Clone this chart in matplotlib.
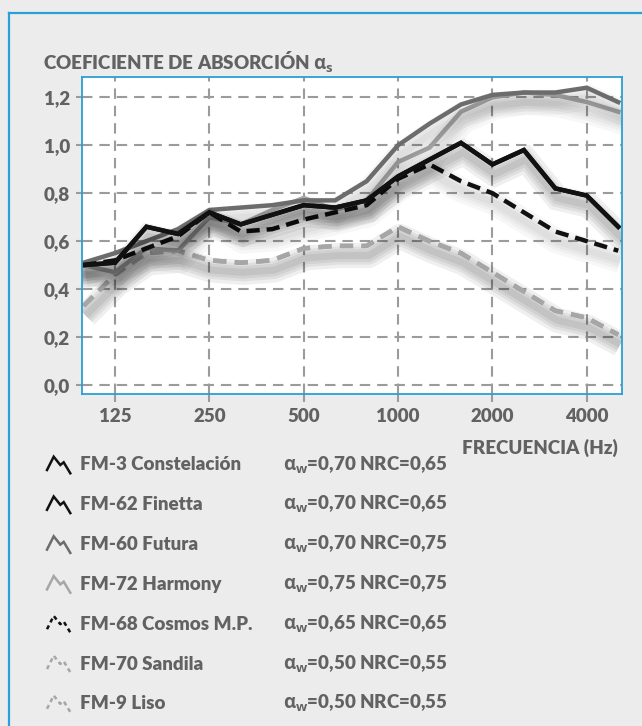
import matplotlib
matplotlib.use("Agg")
import matplotlib.pyplot as plt
import matplotlib.patheffects as pe
import numpy as np

plt.rcParams.update({
    "font.family": ["Lato", "DejaVu Sans"],
    "font.weight": "heavy",
    "mathtext.fontset": "custom",
    "mathtext.rm": "Open Sans:bold",
    "mathtext.it": "Open Sans:bold",
    "mathtext.bf": "Open Sans:bold",
    "lines.scale_dashes": False,
})

# bandas de tercio de octava
freqs = [100, 125, 160, 200, 250, 315, 400, 500, 630, 800, 1000, 1250,
         1600, 2000, 2500, 3150, 4000, 5000]
tick_freqs = [125, 250, 500, 1000, 2000, 4000]

names = ["FM-3 Constelación", "FM-62 Finetta", "FM-60 Futura",
         "FM-72 Harmony", "FM-68 Cosmos M.P.", "FM-70 Sandila", "FM-9 Liso"]
alpha_w = ["0,70", "0,70", "0,70", "0,75", "0,65", "0,50", "0,50"]
nrc = ["0,65", "0,65", "0,75", "0,75", "0,65", "0,55", "0,55"]

fm3 = [0.50, 0.51, 0.66, 0.63, 0.72, 0.67, 0.71, 0.75, 0.74, 0.77, 0.87,
       0.94, 1.01, 0.92, 0.98, 0.82, 0.79, 0.66]
fm62 = [0.50, 0.51, 0.66, 0.63, 0.72, 0.67, 0.71, 0.75, 0.74, 0.77, 0.87,
        0.94, 1.01, 0.92, 0.98, 0.82, 0.79, 0.66]
fm60 = [0.51, 0.55, 0.60, 0.65, 0.73, 0.74, 0.75, 0.77, 0.77, 0.85, 1.00,
        1.09, 1.17, 1.21, 1.22, 1.22, 1.24, 1.18]
fm72 = [0.50, 0.47, 0.57, 0.56, 0.70, 0.67, 0.73, 0.78, 0.73, 0.77, 0.93,
        0.99, 1.14, 1.20, 1.22, 1.21, 1.18, 1.14]
fm68 = [0.50, 0.52, 0.57, 0.62, 0.72, 0.64, 0.65, 0.69, 0.72, 0.75, 0.86,
        0.92, 0.85, 0.80, 0.72, 0.64, 0.60, 0.56]
fm70 = [0.33, 0.46, 0.55, 0.56, 0.52, 0.51, 0.52, 0.57, 0.58, 0.58, 0.66,
        0.60, 0.55, 0.47, 0.39, 0.31, 0.28, 0.21]
fm9 = [0.33, 0.46, 0.55, 0.56, 0.52, 0.51, 0.52, 0.57, 0.58, 0.58, 0.66,
       0.60, 0.55, 0.47, 0.39, 0.31, 0.28, 0.21]

series = [fm3, fm62, fm60, fm72, fm68, fm70, fm9]

BLACK = "#111111"
DARK = "#6c6c6c"
LIGHT = "#a6a6a6"
TEXT = "#626262"
BLUE = "#2a9fd8"
GRID = "#9b9b9b"

colors = [BLACK, BLACK, DARK, LIGHT, BLACK, LIGHT, LIGHT]
styles = ["-", "-", "-", "-", (0, (9.5, 5)), (0, (9.5, 6)), (0, (9.5, 6))]
draw_order = [5, 6, 3, 2, 4, 0, 1]
FS = 13.5

W, H = 642, 726
fig = plt.figure(figsize=(W / 100, H / 100), dpi=100, facecolor="#ececec")


def fx(px):
    return px / W


def fy(py):
    return 1 - py / H


# marco azul exterior (arriba e izquierda)
fig.add_artist(plt.Line2D([fx(9), 1], [fy(12.5), fy(12.5)], color=BLUE, lw=1.6))
fig.add_artist(plt.Line2D([fx(9), fx(9)], [fy(12.5), 0], color=BLUE, lw=1.6))

left, right, top, bottom = 82.3, 621.7, 76.7, 394.3
ax = fig.add_axes([fx(left), fy(bottom), fx(right - left), (bottom - top) / H])
ax.set_facecolor("white")

x = np.arange(len(freqs))
solid = {"dash_offset": 0, "dash_list": None}
shadow = [pe.SimpleLineShadow(offset=(1.5, -7), shadow_color="k", alpha=0.03,
                              rho=1, linewidth=w, dashes=solid)
          for w in (18, 13, 9, 5)]
for i in draw_order:
    ax.plot(x, series[i], color=colors[i], lw=3.2, linestyle=styles[i],
            solid_joinstyle="miter", dash_capstyle="butt", zorder=3,
            path_effects=shadow + [pe.Normal()])

ax.set_xlim(-0.04, 17.11)
ax.set_ylim(-0.039, 1.286)
ax.set_xticks([freqs.index(f) for f in tick_freqs])
ax.set_xticklabels([str(f) for f in tick_freqs])
yt = np.arange(0, 1.21, 0.2)
ax.set_yticks(yt)
ax.set_yticklabels([f"{v:.1f}".replace(".", ",") for v in yt])
ax.grid(True, color=GRID, lw=1.5, linestyle=(0, (7.5, 5)))
ax.set_axisbelow(True)
ax.tick_params(colors=GRID, labelcolor=TEXT, labelsize=FS, width=1.5)
ax.tick_params(axis="x", length=6, pad=4)
ax.tick_params(axis="y", length=4, pad=5)
for lab in ax.get_xticklabels() + ax.get_yticklabels():
    lab.set_fontweight("heavy")
for sp in ax.spines.values():
    sp.set_color(BLUE)
    sp.set_linewidth(1.3)
    sp.set_zorder(4)

fig.text(fx(43), fy(62), r"COEFICIENTE DE ABSORCIÓN $\alpha_s$", color=TEXT,
         fontsize=FS, fontweight="heavy", va="center", ha="left")
fig.text(fx(618), fy(448), "FRECUENCIA (Hz)", color=TEXT, fontsize=FS,
         fontweight="heavy", va="center", ha="right")

# leyenda con iconos en zigzag
icon_x = np.array([0, 6.7, 13.3, 16.7, 23.3]) + 47
icon_y = np.array([5, -8.3, 0, -2.7, 8.3])
for k, name in enumerate(names):
    yc = 465 + 39.8 * k
    dash = "-" if styles[k] == "-" else (0, (3, 2.5))
    fig.add_artist(plt.Line2D(fx(icon_x), fy(yc + icon_y), color=colors[k],
                              lw=1.8, linestyle=dash, solid_joinstyle="miter"))
    fig.text(fx(80.5), fy(yc), name, color=TEXT, fontsize=FS,
             fontweight="heavy", va="center", ha="left")
    fig.text(fx(283), fy(yc), rf"$\alpha_w$=" + alpha_w[k] + " NRC=" + nrc[k],
             color=TEXT, fontsize=FS, fontweight="heavy", va="center",
             ha="left")

fig.savefig("out.png", dpi=100, facecolor=fig.get_facecolor())
